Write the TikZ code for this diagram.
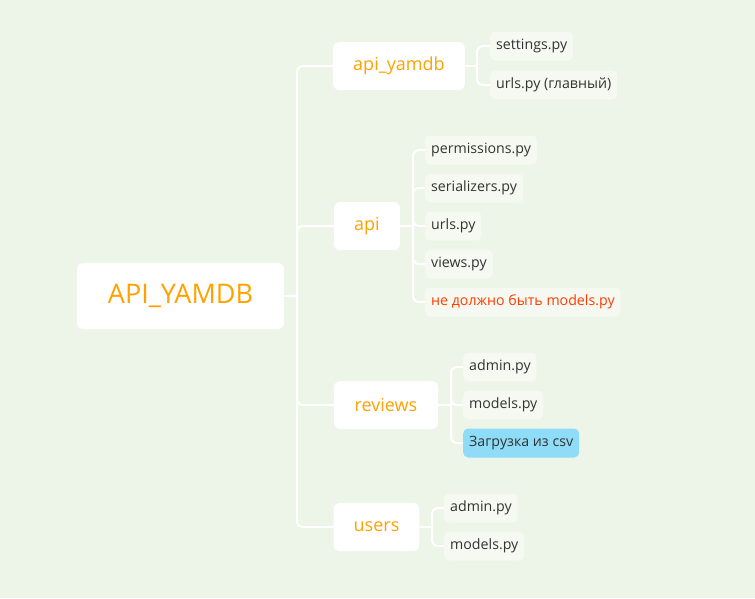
\documentclass[tikz,border=0pt]{standalone}
\usepackage{fontspec}
\setmainfont{Open Sans}
\definecolor{bgcol}{HTML}{EDF4E8}
\definecolor{topiccol}{HTML}{FFA200}
\definecolor{warncol}{HTML}{FF3D00}
\definecolor{leaffill}{HTML}{F5F9F1}
\definecolor{leaftext}{HTML}{333333}
\definecolor{csvfill}{HTML}{8EDCF7}
\begin{document}
\begin{tikzpicture}[x=1pt,y=-1pt]
\tikzset{
  rootbox/.style={fill=white, rounded corners=6pt, text=topiccol, minimum height=66pt,
    minimum width=207pt, font=\fontsize{27}{31}\selectfont},
  topicbox/.style={fill=white, rounded corners=6pt, text=topiccol, minimum height=48pt,
    inner xsep=20pt, font=\fontsize{18}{22}\selectfont},
  leafbox/.style={fill=leaffill, rounded corners=5pt, text=leaftext, minimum height=29pt,
    inner xsep=6pt, anchor=west, font=\fontsize{14.2}{17}\selectfont},
  link/.style={draw=white, line width=2pt, rounded corners=6pt},
}
\fill[bgcol] (0,0) rectangle (755,598);
% root and topics
\node[rootbox] (root) at (180.5,296) {API\_YAMDB};
\node[topicbox, minimum width=130pt] (apiyamdb) at (399,66) {api\_yamdb};
\node[topicbox, minimum width=66pt] (api) at (367,226) {api};
\node[topicbox, minimum width=104pt] (reviews) at (386,405) {reviews};
\node[topicbox, minimum width=85pt] (users) at (376.5,527) {users};
% leaves
\node[leafbox] (settings) at (490,46) {settings.py};
\node[leafbox] (mainurls) at (490,85) {urls.py (главный)};
\node[leafbox] (permissions) at (425,150) {permissions.py};
\node[leafbox] (serializers) at (425,188) {serializers.py};
\node[leafbox] (apiurls) at (425,226) {urls.py};
\node[leafbox] (views) at (425,264) {views.py};
\node[leafbox, text=warncol] (nomodels) at (425,302) {не должно быть models.py};
\node[leafbox] (revadmin) at (463,367) {admin.py};
\node[leafbox] (revmodels) at (463,405) {models.py};
\node[leafbox, fill=csvfill] (csvload) at (463,443) {Загрузка из csv};
\node[leafbox] (usradmin) at (444,508) {admin.py};
\node[leafbox] (usrmodels) at (444,546) {models.py};
% forks
\coordinate (trunk) at (297,296);
\coordinate (yamdbfork) at (477,66);
\coordinate (apifork) at (413,226);
\coordinate (reviewsfork) at (451,405);
\coordinate (usersfork) at (432,527);
% connectors
\draw[link] (root.east) -- (trunk);
\foreach \t in {apiyamdb,api,reviews,users}
  \draw[link] (trunk) |- (\t.west);
\draw[link] (apiyamdb.east) -- (yamdbfork);
\foreach \l in {settings,mainurls}
  \draw[link] (yamdbfork) |- (\l.west);
\draw[link] (api.east) -- (apifork);
\foreach \l in {permissions,serializers,apiurls,views,nomodels}
  \draw[link] (apifork) |- (\l.west);
\draw[link] (reviews.east) -- (reviewsfork);
\foreach \l in {revadmin,revmodels,csvload}
  \draw[link] (reviewsfork) |- (\l.west);
\draw[link] (users.east) -- (usersfork);
\foreach \l in {usradmin,usrmodels}
  \draw[link] (usersfork) |- (\l.west);
\end{tikzpicture}
\end{document}
